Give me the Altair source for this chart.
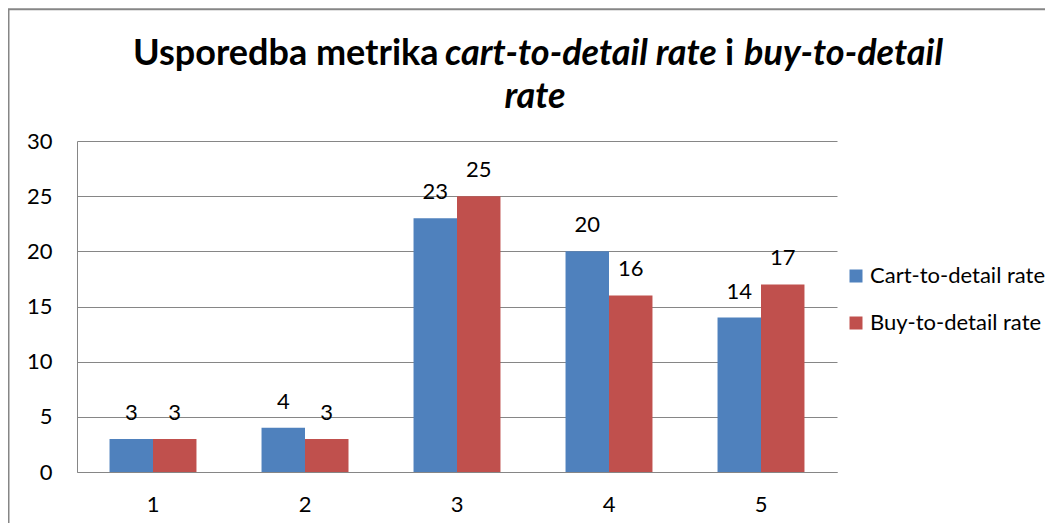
import altair as alt
import pandas as pd

categories = ["1", "2", "3", "4", "5"]
cart_to_detail = [3, 4, 23, 20, 14]
buy_to_detail = [3, 3, 25, 16, 17]
series_names = ["Cart-to-detail rate", "Buy-to-detail rate"]
colors = ["#4F81BD", "#C0504D"]
y_ticks = [0, 5, 10, 15, 20, 25, 30]

rows = []
for c, a, b in zip(categories, cart_to_detail, buy_to_detail):
    rows.append({"cat": c, "series": series_names[0], "value": a})
    rows.append({"cat": c, "series": series_names[1], "value": b})
df = pd.DataFrame(rows)

FONT = "Lato"
GRID = "#868686"
W, H = 760, 331

x_enc = alt.X("cat:N", sort=categories,
              scale=alt.Scale(paddingInner=0.428, paddingOuter=0.214),
              axis=alt.Axis(title=None, labelAngle=0, ticks=False, domainColor=GRID,
                            labelFont=FONT, labelFontSize=22, labelColor="#000000",
                            labelPadding=22))
y_enc = alt.Y("value:Q", scale=alt.Scale(domain=[0, 30], nice=False),
              axis=alt.Axis(title=None, values=y_ticks, ticks=False, domainColor=GRID,
                            gridColor=GRID, gridOpacity=1, labelFont=FONT, labelFontSize=22,
                            labelColor="#000000", labelPadding=25))
xoff = alt.XOffset("series:N", sort=series_names,
                   scale=alt.Scale(paddingInner=0, paddingOuter=0))

base = alt.Chart(df)

bars = base.mark_bar().encode(
    x=x_enc, y=y_enc, xOffset=xoff,
    color=alt.Color("series:N", sort=series_names,
                    scale=alt.Scale(domain=series_names, range=colors),
                    legend=alt.Legend(title=None, orient="none", legendX=768, legendY=124,
                                      symbolType="square", symbolSize=169, symbolStrokeWidth=0,
                                      labelFont=FONT, labelFontSize=22, labelColor="#000000",
                                      labelLimit=0, labelOffset=3, rowPadding=25, padding=0)),
)

labels = base.mark_text(font=FONT, fontSize=22, baseline="alphabetic", dy=-19, color="#000000").encode(
    x=alt.X("cat:N", sort=categories), y="value:Q", xOffset=xoff, text="value:Q"
)

def seg(text, x, y, italic, align="left"):
    return alt.Chart(alt.Data(values=[{}])).mark_text(
        font=FONT, fontSize=36, fontWeight="bold", fontStyle="italic" if italic else "normal",
        align=align, baseline="alphabetic", color="#000000"
    ).encode(x=alt.value(x), y=alt.value(y), text=alt.value(text))

title_parts = [
    seg("Usporedba metrika", 56, -76, False),
    seg("cart-to-detail rate", 368, -76, True),
    seg("i", 648, -76, False),
    seg("buy-to-detail", 667, -76, True),
    seg("rate", 458, -33, True, align="center"),
]

frame = alt.Chart(alt.Data(values=[{}])).mark_rect(
    fill=None, stroke=GRID, strokeWidth=2
).encode(x=alt.value(-68.5), y=alt.value(-131.7), x2=alt.value(1200), y2=alt.value(600))

chart = alt.layer(frame, bars, labels, *title_parts).properties(
    width=W, height=H,
    autosize=alt.AutoSizeParams(type="none"),
    padding={"left": 69, "top": 133, "right": 208, "bottom": 51},
    background="#ffffff",
).configure_view(stroke=None).configure_axis(grid=True).configure_axisX(grid=False)

chart.save("out.html", embed_options={"renderer": "svg", "actions": False})
